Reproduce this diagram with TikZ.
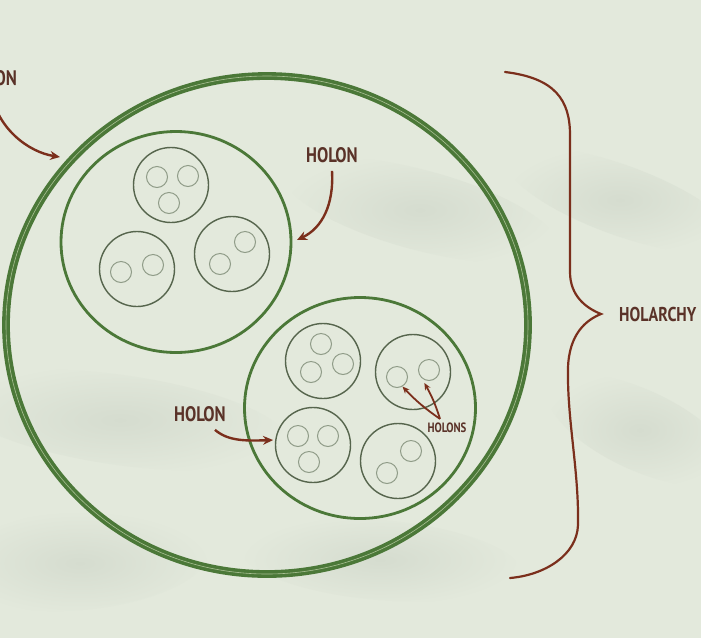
\documentclass[tikz,border=0pt]{standalone}
\usepackage{fontspec}
\newfontfamily\holfont[FakeStretch=0.8]{PT Sans}
\usetikzlibrary{arrows.meta,shapes.geometric}
\definecolor{bgpaper}{HTML}{E3E9DC}
\definecolor{bgshade}{HTML}{D5DCCF}
\definecolor{ring}{HTML}{4B7838}
\definecolor{ringlight}{HTML}{A9C094}
\definecolor{subring}{HTML}{56654D}
\definecolor{tinyring}{HTML}{909C88}
\definecolor{rust}{HTML}{7B2F1C}
\definecolor{inkbrown}{HTML}{5A3228}
\begin{document}
\begin{tikzpicture}[x=1pt,y=-1pt,
    lab/.style={text=inkbrown,font=\holfont\bfseries\fontsize{21}{21}\selectfont,inner sep=0pt},
    pointer/.style={rust,line width=2.4pt,-{Stealth[length=10pt,width=9pt]}},
    thinpointer/.style={rust,line width=1.8pt,-{Stealth[length=7pt,width=6pt]}},
    outerholon/.style={ellipse,draw=ring,double=ringlight,line width=3.6pt,double distance=0.6pt,inner sep=0pt},
    bigholon/.style={ellipse,draw=ring,line width=2.8pt,inner sep=0pt},
    midholon/.style={circle,draw=subring,line width=1.4pt,minimum size=75pt,inner sep=0pt},
    tinyholon/.style={circle,draw=tinyring,line width=1pt,minimum size=21pt,inner sep=0pt}]
  \useasboundingbox (0,0) rectangle (701,638);
  \clip (0,0) rectangle (701,638);
  \fill[bgpaper] (0,0) rectangle (701,638);
  % soft blotches of the backdrop
  \foreach \bx/\by/\rx/\ry/\rot in {120/420/170/45/-8, 420/210/140/40/-15, 620/200/120/35/-20,
                                    80/560/130/50/5, 380/560/140/40/-5, 640/430/100/40/-25}
    \shade[inner color=bgshade,outer color=bgpaper,rotate around={\rot:(\bx,\by)}]
      (\bx,\by) ellipse ({\rx} and {\ry});

  % the whole and its two parts
  \node[outerholon,minimum width=522pt,minimum height=498pt] (whole) at (267,325) {};
  \node[bigholon,minimum width=230pt,minimum height=221pt] (holA) at (176,242) {};
  \node[bigholon,minimum width=231pt,minimum height=221pt] (holB) at (360,408) {};

  % holons inside the parts
  \foreach \nm/\px/\py in {a1/171/185, a2/137/269, a3/232/254,
                           b1/323/361, b2/413/372, b3/313/445, b4/398/461}
    \node[midholon] (\nm) at (\px,\py) {};

  \foreach \nm/\px/\py in {a1x/157/177, a1y/188/176, a1z/169/203,
                           a2x/121/272, a2y/153/265,
                           a3x/245/242, a3y/220/264,
                           b1x/321/344, b1y/311/372, b1z/343/364,
                           b2x/397/377, b2y/429/370,
                           b3x/298/436, b3y/328/436, b3z/309/462,
                           b4x/411/451, b4y/387/473}
    \node[tinyholon] (\nm) at (\px,\py) {};

  % labels
  \node[lab,anchor=east] (lbOut) at (17,78) {HOLON};
  \node[lab] (lbA) at (332,155) {HOLON};
  \node[lab] (lbB) at (200,414) {HOLON};
  \node[lab,font=\holfont\bfseries\fontsize{13.5}{13.5}\selectfont] (lbTiny) at (447,428) {HOLONS};
  \node[lab,font=\holfont\bfseries\fontsize{20}{20}\selectfont,anchor=west] (lbAll) at (619,314) {HOLARCHY};

  % pointers
  \coordinate (tOut) at (60,157);
  \coordinate (tA) at (297,240);
  \coordinate (tB) at (273,440);
  \draw[pointer] ([yshift=-6pt]lbOut.south) .. controls (-3,128) and (28,152) .. (tOut);
  \draw[pointer] ([yshift=-8pt]lbA.south) .. controls (334,205) and (322,228) .. (tA);
  \draw[pointer] ([xshift=-11pt,yshift=-8pt]lbB.south east) .. controls (228,441) and (245,441) .. (tB);
  \draw[thinpointer] ([xshift=-7pt,yshift=4pt]lbTiny.north) to[bend left=6] (b2x.-60);
  \draw[thinpointer] ([xshift=-7pt,yshift=4pt]lbTiny.north) to[bend right=6] ([yshift=-3pt]b2y.-115);

  % brace
  \draw[rust,line width=2.2pt,line cap=round] (505,72) .. controls (555,78) and (570,100) .. (570,135)
    -- (570,272) .. controls (570,296) and (586,308) .. (601,314)
    .. controls (586,320) and (569,334) .. (568,368)
    .. controls (567,420) and (579,470) .. (578,525)
    .. controls (577,555) and (545,575) .. (510,578);
\end{tikzpicture}
\end{document}
